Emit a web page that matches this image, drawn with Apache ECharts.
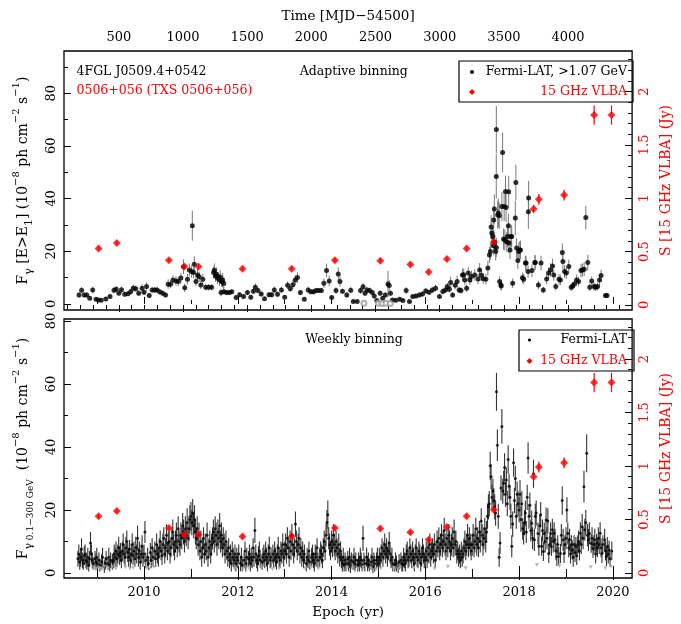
<!DOCTYPE html>
<html><head><meta charset="utf-8">
<script src="https://cdn.jsdelivr.net/npm/echarts@6/dist/echarts.min.js"></script>
<style>html,body{margin:0;padding:0;background:#fff}#c{width:681px;height:624px}</style>
</head><body><div id="c"></div>
<script>
// ---------------- tick values ----------------
const epochMajor = [2010, 2012, 2014, 2016, 2018, 2020];
const epochMinor = [2009, 2011, 2013, 2015, 2017, 2019];
const mjdMajor = [500, 1000, 1500, 2000, 2500, 3000, 3500, 4000];
const mjdMinor = [100,200,300,400,600,700,800,900,1100,1200,1300,1400,1600,1700,1800,1900,2100,2200,2300,2400,2600,2700,2800,2900,3100,3200,3300,3400,3600,3700,3800,3900,4100,4200,4300,4400];
const fluxMajor = [0, 20, 40, 60, 80];
const fluxMinorTop = [10, 30, 50, 70, 90];
const fluxMinorBottom = [10, 30, 50, 70];
const jyMajor = [0, 0.5, 1, 1.5, 2];
const jyMinor = [0.1,0.2,0.3,0.4,0.6,0.7,0.8,0.9,1.1,1.2,1.3,1.4,1.6,1.7,1.8,1.9,2.1,2.2,2.3];

// ---------------- adaptive binning (top) ----------------
const adYear = [2008.613,2008.669,2008.725,2008.780,2008.842,2008.905,2008.976,2009.030,2009.087,2009.185,
2009.275,2009.359,2009.407,2009.463,2009.519,2009.588,2009.657,2009.714,2009.770,2009.824,
2009.887,2009.958,2010.000,2010.054,2010.111,2010.173,2010.230,2010.278,2010.334,2010.397,
2010.460,2010.514,2010.564,2010.618,2010.681,2010.731,2010.786,2010.842,2010.869,2010.926,
2010.967,2011.015,2011.030,2011.057,2011.072,2011.107,2011.141,2011.176,2011.212,2011.254,
2011.316,2011.379,2011.442,2011.483,2011.500,2011.525,2011.550,2011.567,2011.609,2011.625,
2011.651,2011.678,2011.700,2011.642,2011.705,2011.761,2011.818,2011.872,2011.964,2012.039,
2012.123,2012.206,2012.277,2012.332,2012.374,2012.430,2012.499,2012.570,2012.666,2012.723,
2012.779,2012.848,2012.931,2013.000,2013.063,2013.120,2013.176,2013.224,2013.272,2013.335,
2013.418,2013.502,2013.558,2013.615,2013.669,2013.725,2013.782,2013.836,2013.893,2013.949,
2014.003,2014.095,2014.143,2014.179,2014.233,2014.325,2014.409,2014.463,2014.547,2014.618,
2014.672,2014.714,2014.756,2014.812,2014.868,2014.910,2014.964,2015.036,2015.090,2015.146,
2015.203,2015.230,2015.257,2015.299,2015.370,2015.453,2015.522,2015.591,2015.662,2015.731,
2015.800,2015.871,2015.940,2016.009,2016.080,2016.149,2016.218,2016.302,2016.373,2016.427,
2016.469,2016.511,2016.540,2016.582,2016.636,2016.678,2016.720,2016.761,2016.791,2016.818,
2016.845,2016.881,2016.916,2016.950,2016.985,2017.054,2017.125,2017.158,2017.194,2017.236,
2017.292,2017.334,2017.367,2017.388,2017.403,2017.417,2017.438,2017.451,2017.459,2017.472,
2017.480,2017.501,2017.513,2017.514,2017.515,2017.543,2017.556,2017.577,2017.585,2017.612,
2017.618,2017.633,2017.648,2017.668,2017.681,2017.695,2017.710,2017.722,2017.737,2017.751,
2017.772,2017.778,2017.784,2017.806,2017.827,2017.842,2017.863,2017.919,2017.931,2017.946,
2017.973,2017.994,2018.015,2018.030,2018.071,2018.099,2018.134,2018.149,2018.191,2018.197,
2018.203,2018.274,2018.337,2018.343,2018.412,2018.468,2018.516,2018.587,2018.629,2018.671,
2018.713,2018.740,2018.782,2018.851,2018.880,2018.922,2018.934,2018.970,2019.005,2019.060,
2019.110,2019.143,2019.179,2019.227,2019.269,2019.319,2019.352,2019.388,2019.423,2019.465,
2019.507,2019.549,2019.597,2019.632,2019.674,2019.716,2019.749,2019.841,2019.875];
const adFlux = [3.4,5.2,3.4,3.4,2.2,5.3,1.8,1.5,1.4,1.9,
2.8,5.2,5.6,4.1,5.4,3.7,3.9,4.6,6.0,5.8,
4.1,6.0,4.4,6.6,3.2,5.3,5.3,5.3,4.6,4.1,
3.4,7.5,7.5,9.1,8.7,8.5,9.8,14.1,6.1,9.4,
12.9,12.3,29.7,11.9,15.1,8.5,11.0,10.3,7.2,9.4,
6.3,6.3,6.3,11.9,12.8,10.6,11.3,9.8,9.1,10.2,
8.5,9.0,7.8,4.3,4.6,4.3,4.3,4.6,2.4,3.5,
2.8,4.3,2.5,4.8,6.3,5.1,3.8,2.0,3.5,3.5,
5.3,3.7,5.3,2.5,7.1,5.8,7.3,9.1,10.0,4.3,
1.8,5.3,4.6,4.6,5.1,5.1,5.1,7.9,12.7,8.7,
2.4,5.1,11.4,8.5,4.8,3.4,5.2,0.9,0.9,5.1,
6.5,4.1,5.3,5.1,4.3,3.0,1.3,4.1,2.2,3.4,
7.6,7.0,4.1,1.5,1.4,1.8,1.3,5.1,0.9,2.8,
3.0,3.4,3.8,4.9,4.4,5.3,6.0,2.8,4.7,5.3,
6.6,5.6,8.1,3.4,7.1,8.5,5.3,5.1,11.0,11.1,
9.1,6.0,11.7,9.1,10.4,11.0,9.5,12.9,10.9,9.6,
9.4,13.6,18.6,19.9,29.2,26.9,25.6,22.1,31.9,36.0,
23.3,19.9,48.4,66.2,21.4,33.8,34.5,33.5,8.5,7.2,
6.8,37.0,57.5,24.6,37.0,24.3,42.7,36.6,23.5,25.6,
29.7,42.6,23.1,20.5,25.6,25.6,7.9,32.6,46.1,21.2,
16.5,19.9,20.5,20.5,9.9,9.4,15.5,15.5,12.3,35.0,
40.2,12.7,15.7,15.7,7.2,15.5,5.3,9.5,11.7,12.9,
14.4,11.0,6.6,9.4,9.1,19.5,16.1,12.3,11.7,14.2,
6.3,6.8,7.6,9.1,8.5,12.7,12.9,13.2,32.8,15.7,
6.3,8.7,6.6,6.3,6.6,9.1,10.8,3.2,3.2];
const adErr = [1.0,1.2,1.0,1.0,0.8,1.2,0.7,0.6,0.6,0.7,
0.8,1.2,1.2,1.0,1.2,1.0,1.0,1.1,1.3,1.2,
1.0,1.5,1.0,1.6,1.0,1.2,1.2,1.2,1.1,1.0,
1.0,1.8,1.5,1.8,1.8,1.7,2.0,2.8,1.6,2.0,
2.5,2.4,5.7,2.2,3.0,1.8,2.2,2.0,1.6,2.0,
1.2,1.2,1.2,2.2,2.6,2.2,2.5,2.2,2.2,2.6,
2.0,2.8,2.5,1.4,1.0,1.0,1.0,1.0,0.8,1.0,
0.8,1.0,0.8,1.1,1.5,1.1,1.0,0.7,1.0,1.0,
1.2,1.0,1.2,0.8,1.5,1.2,1.5,1.8,2.0,1.0,
0.7,1.2,1.0,1.0,1.0,1.0,1.0,1.8,2.6,2.0,
0.8,1.2,2.4,2.0,1.0,1.0,1.2,0.5,0.5,1.2,
1.5,1.0,1.2,1.2,1.0,0.9,0.6,1.0,0.8,1.0,
5.0,2.0,1.0,0.6,0.6,0.7,0.6,1.3,0.5,0.8,
0.9,1.0,1.0,1.1,1.0,1.2,1.3,0.8,1.1,1.2,
1.4,1.3,2.2,1.0,1.6,2.2,1.2,1.2,2.4,2.4,
2.0,1.4,2.4,2.0,2.2,2.2,2.0,2.6,2.2,2.0,
2.0,2.8,3.0,3.2,4.5,4.2,4.0,3.6,5.0,5.5,
3.8,3.4,8.5,9.0,3.6,5.2,5.4,5.0,2.0,1.8,
1.8,5.6,7.5,4.0,5.5,4.0,6.0,5.5,3.8,4.2,
4.6,6.0,3.8,3.5,4.2,4.2,1.8,6.5,6.8,3.8,
3.2,3.4,3.4,3.5,2.0,2.0,2.8,2.8,2.4,6.5,
6.5,2.4,2.8,2.8,1.6,2.8,1.2,2.0,2.2,2.5,
2.8,2.2,1.5,2.0,2.0,3.5,3.0,2.4,2.2,2.6,
1.4,1.5,1.6,2.0,1.8,2.5,2.5,2.6,4.5,3.0,
1.4,1.8,1.5,1.4,1.5,2.0,2.2,0.9,0.9];
const adOpenYear = [2014.69, 2015.00, 2015.08, 2015.16, 2015.25];
const adOpenFlux = [0.3, 0.3, 0.2, 0.3, 0.2];

// ---------------- weekly binning (bottom) ----------------
const weeklyStarts = [2008.59, 2009, 2010, 2011, 2012, 2013, 2014, 2015, 2016, 2017, 2018, 2019];
const wk08 = [4.5,6,3.5,5,7.5,4,3,5.5,6,4,3.5,5,2.5,4.5,9.5,6,4,3,null,4.5,3.5,5];
const er08 = [2.5,3,2.5,3,3.5,2.5,2,3,3,2.5,2.5,3,2,2.5,3.5,3,2.5,2,0,2.5,2.5,3];
const wk09 = [3,null,4,2.5,null,3.5,5,null,2,3,4.5,null,3,5,2.5,4,null,3.5,4,6,5,7,4.5,6,8,5.5,6.5,4,7,9,6,5,8,10,6.5,5,7.5,4,6,9,5.5,7,4.5,8,6,11,5,7,3.5,6,8.5,5];
const er09 = [2,0,2.5,2,0,2.5,3,0,2,2,2.5,0,2,3,2,2.5,0,2.5,2.5,3,3,3,2.5,3,3.5,3,3,2.5,3,3.5,3,3,3.5,3.5,3,3,3,2.5,3,3.5,3,3,2.5,3.5,3,4,3,3,2.5,3,3.5,3];
const wk10 = [6,13,4,null,5,3,null,6.5,4,8,5,null,7,4.5,9,6,5,8,10,7,5.5,9,11,6,8,12,7,9.5,10,6,8,11,13,9,7,10,12,8,14,10,9,12,11,15,13,10,14,12,16,11,14,17];
const er10 = [3,3.5,2.5,0,3,2,0,3,2.5,3,3,0,3,2.5,3.5,3,3,3,3.5,3,3,3.5,3.5,3,3,3.5,3,3.5,3.5,3,3,3.5,4,3.5,3,3.5,4,3,4,3.5,3.5,4,3.5,4,4,3.5,4,3.5,4.5,3.5,4,4.5];
const wk11 = [18,16,19,15,17,13,11,14,9,12,7,10,5,8,11,6,9,7,12,5,8,10,6,9,11,13,10,14,12,9,13,11,15,10,12,8,11,9,6,10,7,5,8,4,6,3,7,5,4,6,3,5];
const er11 = [4.5,4,4.5,4,4.5,4,3.5,4,3.5,4,3,3.5,3,3,3.5,3,3.5,3,4,3,3,3.5,3,3.5,3.5,4,3.5,4,4,3.5,4,3.5,4,3.5,4,3,3.5,3.5,3,3.5,3,3,3,2.5,3,2.5,3,3,2.5,3,2.5,3];
const wk12 = [4,6,null,3,5,2.5,null,4,7,3,5,null,4.5,6,3,5,4,8,5,13.5,6,4,3,5.5,7,4,null,3.5,5,6,4,7,5,3,6,8,4,5,null,6,4,7,5,3.5,6,8,5,4,7,6,9,5];
const er12 = [2.5,3,0,2.5,3,2,0,2.5,3,2.5,3,0,2.5,3,2.5,3,2.5,3,3,4,3,2.5,2.5,3,3,2.5,0,2.5,3,3,2.5,3,3,2.5,3,3.5,2.5,3,0,3,2.5,3,3,2.5,3,3.5,3,2.5,3,3,3.5,3];
const wk13 = [7,9,6,11,8,5,10,7,12,9,6,8,15.5,10,7,9,11,6,8,5,7,4,6,null,3,5,4,7,3.5,null,5,6,4,3,6,5,8,4,null,5,7,6,4,8,10,7,12,16,18.5,11,9,7];
const er13 = [3,3.5,3,3.5,3,3,3.5,3,3.5,3.5,3,3,4,3.5,3,3.5,3.5,3,3,3,3,2.5,3,0,2.5,3,2.5,3,2.5,0,3,3,2.5,2.5,3,3,3,2.5,0,3,3,3,2.5,3,3.5,3,3.5,4,4.5,3.5,3.5,3];
const wk14 = [10,8,12,9,7,10,8,6,9,5,7,4,3,5,2.5,4,3,null,4.5,3,5,2,4,null,3.5,5,3,4,null,2.5,4,3,5,4,2.5,11,4,3,null,5,3,4,2.5,null,3.5,5,2,4,3,null,4,5];
const er14 = [3.5,3,3.5,3.5,3,3.5,3,3,3.5,3,3,2.5,2.5,3,2,2.5,2.5,0,2.5,2.5,3,2,2.5,0,2.5,3,2.5,2.5,0,2,2.5,2.5,3,2.5,2,4,2.5,2.5,0,3,2.5,2.5,2,0,2.5,3,2,2.5,2.5,0,2.5,3];
const wk15 = [3,5,4,6,8,5,7,9,6,8,5,7,9.5,6,4,5,3,null,2.5,4,3,null,2,3.5,null,4,3,2.5,5,4,3,6,7,4,5,8,6,4,7,5,3,6,8,5,4,7,6,3,5,8,6,4];
const er15 = [2.5,3,2.5,3,3,3,3,3.5,3,3,3,3,3.5,3,2.5,3,2.5,0,2,2.5,2.5,0,2,2.5,0,2.5,2.5,2,3,2.5,2.5,3,3,2.5,3,3,3,2.5,3,3,2.5,3,3,3,2.5,3,3,2.5,3,3,3,2.5];
const wk16 = [5,7,4,8,6,9,5,7,8,6,9,4,7,10,8,11,7,9,12,8,10,13.5,9,7,11,8,12,10,7,9,11,8,13,9,10,6,7,5,6,4,7,5,6,8,10,7,9,12,8,11,9,7];
const er16 = [3,3,2.5,3,3,3.5,3,3,3,3,3.5,2.5,3,3.5,3,3.5,3,3.5,3.5,3,3.5,4,3.5,3,3.5,3,3.5,3.5,3,3.5,3.5,3,4,3.5,3.5,3,3,3,3,2.5,3,3,3,3,3.5,3,3.5,3.5,3,3.5,3.5,3];
const wk17 = [9,12,8,10,14,9,11,8,13,10,16.5,12,9,11,14,10,13,18,21,22,34,30.5,24,26,23,21,19,57.5,40.5,18,5,9.5,27,46.5,26,28.5,33.5,25,29.5,22,36,27.5,24,18,8.5,15.5,35,23,30,18,25,22];
const er17 = [3.5,3.5,3,3.5,3.5,3.5,3.5,3,3.5,3.5,4,3.5,3.5,3.5,3.5,3.5,3.5,4,4,4,4.5,4,4,4,4,4,4,6,5,4,3,3.5,4,5.5,4,4,4.5,4,4,4,4.5,4,4,4,3.5,4,4.5,4,4,4,4,4];
const wk18 = [20,25,17,22,14,12.5,16,19,13,24,36.5,18,21.5,13.5,15.8,11,31.5,10.5,18,19,null,12.5,8.5,15,18.5,8.5,13.5,6.8,12.5,10,16.8,11,16.5,6.2,9,12.5,8.4,13.7,10,12.6,10.5,7,5.2,9,5.2,null,6.2,12,23,10.5,6.2,9];
const er18 = [4,4.5,4,4,3.5,3.5,4,4,3.5,4,5,4,4,3.5,4,3.5,4.5,3.5,4,4,0,3.5,3,3.5,4,3,3.5,3,3.5,3.5,4,3.5,4,3,3,3.5,3,3.5,3.5,3.5,3.5,3,3,3,3,0,3,3.5,4.5,3.5,3,3];
const wk19 = [11,20,12.5,8,10.5,6,9,7.3,5,9,6.5,8.4,5.5,9,10,7,12.6,9,14.7,11,27.4,13.7,16,38,12,10.5,12.6,null,9.4,11,7.8,9,10.5,6,9.4,8,11,9,12.6,8,6.2,9,null,10.5,7,5.2,8.4,6,7.3,4.5,null,7];
const er19 = [3.5,4,3.5,3,3.5,3,3,3,3,3,3,3,3,3,3.5,3,3.5,3,4,3.5,5,3.5,4,6,3.5,3.5,3.5,0,3,3.5,3,3,3.5,3,3,3,3.5,3,3.5,3,3,3,0,3.5,3,3,3,3,3,2.5,0,3];
const weeklyFlux = [wk08, wk09, wk10, wk11, wk12, wk13, wk14, wk15, wk16, wk17, wk18, wk19];
const weeklyErr = [er08, er09, er10, er11, er12, er13, er14, er15, er16, er17, er18, er19];
// weekly upper limits (grey)
const ulYear = [2008.93,2008.97,2009.04,2009.10,2009.15,2009.23,2009.32,2009.40,2009.60,2009.70,2009.77,2010.06,2010.12,2010.21,2011.93,2012.11,2012.23,2012.50,2012.74,2012.88,2013.44,2013.56,2013.72,2014.33,2014.44,2014.56,2014.67,2014.84,2014.95,2015.05,2015.34,2015.42,2015.46,2015.75,2016.20,2016.48,2016.86,2018.38,2018.86,2019.53,2019.84,2019.96];
const ulFlux = [1.5,1.2,1.5,1.2,2.0,1.4,1.8,1.3,1.8,1.4,1.6,1.5,1.3,1.8,1.4,1.2,1.6,1.7,1.2,1.4,1.4,1.8,1.3,1.6,1.5,1.3,1.7,1.4,1.2,1.5,1.6,1.3,1.8,1.5,1.4,2.0,1.5,2.5,2.2,1.8,1.5,2.0];

// ---------------- VLBA 15 GHz ----------------
const vlbaYear = [2009.03,2009.42,2010.53,2010.86,2011.16,2012.10,2013.15,2014.07,2015.04,2015.68,2016.07,2016.46,2016.88,2017.46,2018.31,2018.42,2018.96,2019.60,2019.97];
const vlbaJy = [0.53,0.58,0.42,0.36,0.36,0.34,0.34,0.42,0.415,0.38,0.31,0.43,0.53,0.59,0.90,0.99,1.03,1.78,1.78];
const vlbaErr = [0.02,0.02,0.02,0.02,0.02,0.02,0.02,0.02,0.02,0.02,0.02,0.02,0.02,0.03,0.04,0.05,0.05,0.09,0.09];

// ---------------- build ----------------
const FONT = 'DejaVu Serif';
const RED = '#ff0000';
const X0 = 2008.293, X1 = 2020.41;
const toMjd = y => (y - 2008) * 365.25 + 54466 - 54500;

const adPts = adYear.map((t, i) => [t, adFlux[i]]);
const adBars = adYear.map((t, i) => [t, adFlux[i] - adErr[i], adFlux[i] + adErr[i]]);
const adOpen = adOpenYear.map((t, i) => [t, adOpenFlux[i]]);
const wkPts = [], wkBars = [];
weeklyStarts.forEach((s, k) => {
  weeklyFlux[k].forEach((v, j) => {
    if (v == null) return;
    const t = s + j * 7 / 365.25;
    const e = weeklyErr[k][j];
    wkPts.push([t, v]);
    wkBars.push([t, v - e, v + e]);
  });
});
const ulPts = ulYear.map((t, i) => [t, ulFlux[i]]);
const vPts = vlbaYear.map((t, i) => [t, vlbaJy[i]]);
const vBars = vlbaYear.map((t, i) => [t, vlbaJy[i] - vlbaErr[i], vlbaJy[i] + vlbaErr[i]]);

function errSeries(data, xi, yi, color, w) {
  return {
    type: 'custom', xAxisIndex: xi, yAxisIndex: yi, data: data, clip: true, silent: true,
    encode: { x: 0, y: [1, 2] },
    renderItem: function (params, api) {
      const a = api.coord([api.value(0), api.value(1)]);
      const b = api.coord([api.value(0), api.value(2)]);
      return { type: 'line', shape: { x1: a[0], y1: a[1], x2: b[0], y2: b[1] }, style: { stroke: color, lineWidth: w } };
    }
  };
}

const plain = v => String(v);

function axis(o) {
  return {
    type: 'value', gridIndex: o.grid, position: o.pos, min: o.min, max: o.max,
    axisLine: { show: false }, splitLine: { show: false },
    axisTick: { show: true, inside: true, length: o.len, customValues: o.ticks, lineStyle: { color: '#000', width: 1 } },
    axisLabel: o.labels ? Object.assign({ show: true, customValues: o.ticks, formatter: plain, color: '#000', fontFamily: FONT, fontSize: 13 }, o.labelStyle || {}) : { show: false },
    name: o.name || '', nameLocation: 'middle', nameGap: o.nameGap || 0, nameRotate: o.nameRotate,
    nameTextStyle: o.nameStyle || {}
  };
}

const richName = {
  b: { fontFamily: FONT, fontSize: 14, color: '#000', lineHeight: 24, verticalAlign: 'middle' },
  sub: { fontFamily: FONT, fontSize: 11, color: '#000', lineHeight: 24, verticalAlign: 'bottom' },
  subs: { fontFamily: FONT, fontSize: 9, color: '#000', lineHeight: 24, verticalAlign: 'bottom' },
  sup: { fontFamily: FONT, fontSize: 10, color: '#000', lineHeight: 24, verticalAlign: 'top' }
};

const fluxLabel = { rotate: 90, margin: 6 };
const jyLabel = { rotate: 90, margin: 6, color: RED };
const titleStyle = { fontFamily: FONT, fontSize: 13.5, color: '#000' };

const xAxes = [
  axis({ grid: 0, pos: 'bottom', min: X0, max: X1, ticks: epochMajor, len: 7 }),
  axis({ grid: 0, pos: 'bottom', min: X0, max: X1, ticks: epochMinor, len: 4 }),
  axis({ grid: 0, pos: 'top', min: toMjd(X0), max: toMjd(X1), ticks: mjdMajor, len: 7, labels: true, labelStyle: { margin: 7 },
         name: 'Time [MJD\u221254500]', nameGap: 28, nameStyle: titleStyle }),
  axis({ grid: 0, pos: 'top', min: toMjd(X0), max: toMjd(X1), ticks: mjdMinor, len: 4 }),
  axis({ grid: 1, pos: 'bottom', min: X0, max: X1, ticks: epochMajor, len: 7, labels: true, labelStyle: { margin: 8 },
         name: 'Epoch (yr)', nameGap: 27, nameStyle: titleStyle }),
  axis({ grid: 1, pos: 'bottom', min: X0, max: X1, ticks: epochMinor, len: 4 }),
  axis({ grid: 1, pos: 'top', min: X0, max: X1, ticks: epochMajor, len: 7 }),
  axis({ grid: 1, pos: 'top', min: X0, max: X1, ticks: epochMinor, len: 4 })
];

const yAxes = [
  axis({ grid: 0, pos: 'left', min: -2.3, max: 96, ticks: fluxMajor, len: 7, labels: true, labelStyle: fluxLabel,
         name: '{b|F}{sub|\u03b3}{b| [E>E}{sub|1}{b|] (10}{sup|\u22128}{b| ph cm}{sup|\u22122}{b| s}{sup|\u22121}{b|)}',
         nameGap: 29, nameRotate: 90, nameStyle: { rich: richName } }),
  axis({ grid: 0, pos: 'left', min: -2.3, max: 96, ticks: fluxMinorTop, len: 4 }),
  axis({ grid: 0, pos: 'right', min: -0.047, max: 2.38, ticks: jyMajor, len: 7, labels: true, labelStyle: jyLabel,
         name: 'S [15 GHz VLBA] (Jy)', nameGap: 25, nameRotate: 90, nameStyle: { fontFamily: FONT, fontSize: 14, color: RED } }),
  axis({ grid: 0, pos: 'right', min: -0.047, max: 2.38, ticks: jyMinor, len: 4 }),
  axis({ grid: 1, pos: 'left', min: -1.6, max: 80.6, ticks: fluxMajor, len: 7, labels: true, labelStyle: fluxLabel,
         name: '{b|F}{sub|\u03b3}{subs| 0.1\u2212300 GeV}{b|  (10}{sup|\u22128}{b| ph cm}{sup|\u22122}{b| s}{sup|\u22121}{b|)}',
         nameGap: 29, nameRotate: 90, nameStyle: { rich: richName } }),
  axis({ grid: 1, pos: 'left', min: -1.6, max: 80.6, ticks: fluxMinorBottom, len: 4 }),
  axis({ grid: 1, pos: 'right', min: -0.047, max: 2.374, ticks: jyMajor, len: 7, labels: true, labelStyle: jyLabel,
         name: 'S [15 GHz VLBA] (Jy)', nameGap: 25, nameRotate: 90, nameStyle: { fontFamily: FONT, fontSize: 14, color: RED } }),
  axis({ grid: 1, pos: 'right', min: -0.047, max: 2.374, ticks: jyMinor, len: 4 })
];

const series = [
  errSeries(adBars, 0, 0, '#7a7a7a', 1),
  { type: 'scatter', xAxisIndex: 0, yAxisIndex: 0, data: adPts, symbol: 'circle', symbolSize: 5, itemStyle: { color: '#000' }, silent: true },
  { type: 'scatter', xAxisIndex: 0, yAxisIndex: 0, data: adOpen, symbol: 'emptyCircle', symbolSize: 5, itemStyle: { color: '#9a9a9a', borderColor: '#9a9a9a', borderWidth: 0.8 }, silent: true },
  errSeries(vBars, 0, 2, RED, 1.2),
  { type: 'scatter', xAxisIndex: 0, yAxisIndex: 2, data: vPts, symbol: 'diamond', symbolSize: [8, 8], itemStyle: { color: RED }, silent: true },
  errSeries(wkBars, 4, 4, '#333333', 1.1),
  { type: 'scatter', xAxisIndex: 4, yAxisIndex: 4, data: wkPts, symbol: 'circle', symbolSize: 3, itemStyle: { color: '#000' }, silent: true },
  { type: 'scatter', xAxisIndex: 4, yAxisIndex: 4, data: ulPts, symbol: 'triangle', symbolRotate: 180, symbolSize: 4, itemStyle: { color: '#a8a8a8' }, silent: true },
  errSeries(vBars, 4, 6, RED, 1.2),
  { type: 'scatter', xAxisIndex: 4, yAxisIndex: 6, data: vPts, symbol: 'diamond', symbolSize: [8, 8], itemStyle: { color: RED }, silent: true }
];

function txt(x, y, s, color, align) {
  return { type: 'text', x: x, y: y, style: { text: s, fill: color, font: '12.5px "' + FONT + '"', align: align || 'left', verticalAlign: 'middle' }, silent: true };
}
function diamond(cx, cy, r) {
  return { type: 'polygon', shape: { points: [[cx, cy - r], [cx + r, cy], [cx, cy + r], [cx - r, cy]] }, style: { fill: RED }, silent: true };
}
const graphic = [
  txt(76.5, 72, '4FGL J0509.4+0542', '#000'),
  txt(76.5, 91, '0506+056 (TXS 0506+056)', RED),
  txt(353.7, 72, 'Adaptive binning', '#000', 'center'),
  txt(354, 340, 'Weekly binning', '#000', 'center'),
  { type: 'rect', shape: { x: 459, y: 61, width: 174, height: 41 }, style: { fill: 'none', stroke: '#000', lineWidth: 1.2 }, silent: true },
  { type: 'circle', shape: { cx: 472, cy: 72, r: 2 }, style: { fill: '#000' }, silent: true },
  txt(627, 72, 'Fermi-LAT, >1.07 GeV', '#000', 'right'),
  diamond(472, 92, 3),
  txt(627, 92, '15 GHz VLBA', RED, 'right'),
  { type: 'rect', shape: { x: 519, y: 330, width: 115, height: 41 }, style: { fill: 'none', stroke: '#000', lineWidth: 1.2 }, silent: true },
  { type: 'circle', shape: { cx: 529.5, cy: 340, r: 1.6 }, style: { fill: '#000' }, silent: true },
  txt(627, 340, 'Fermi-LAT', '#000', 'right'),
  diamond(529.5, 361, 3),
  txt(627, 361, '15 GHz VLBA', RED, 'right')
];

const chart = echarts.init(document.getElementById('c'), null, { renderer: 'canvas' });
chart.setOption({
  animation: false,
  backgroundColor: '#fff',
  textStyle: { fontFamily: FONT },
  grid: [
    { left: 64, top: 51, width: 580, height: 259, show: true, borderColor: '#000', borderWidth: 1.3, backgroundColor: 'transparent', containLabel: false },
    { left: 64, top: 319, width: 580, height: 259, show: true, borderColor: '#000', borderWidth: 1.3, backgroundColor: 'transparent', containLabel: false }
  ],
  xAxis: xAxes,
  yAxis: yAxes,
  series: series,
  graphic: graphic
});
</script>
</body></html>
